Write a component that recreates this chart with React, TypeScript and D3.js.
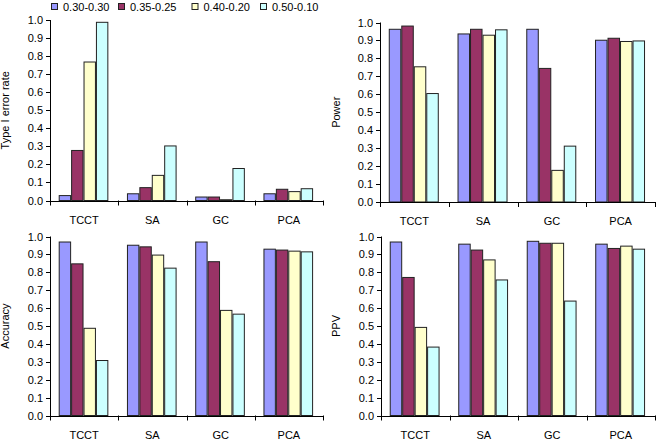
import React from 'react';
import * as d3 from 'd3';

// categories and series
const categories = ['TCCT', 'SA', 'GC', 'PCA'];
const seriesNames = ['0.30-0.30', '0.35-0.25', '0.40-0.20', '0.50-0.10'];
const seriesColors = ['#9999FF', '#993366', '#FFFFCC', '#CCFFFF'];
const yTicks = [0, 0.1, 0.2, 0.3, 0.4, 0.5, 0.6, 0.7, 0.8, 0.9, 1.0];

// values, one row per category, one entry per series
const typeIError = [
  [0.03, 0.28, 0.77, 0.99],
  [0.04, 0.074, 0.142, 0.305],
  [0.022, 0.022, 0.007, 0.18],
  [0.04, 0.065, 0.052, 0.068],
];
const power = [
  [0.965, 0.983, 0.756, 0.607],
  [0.939, 0.965, 0.932, 0.962],
  [0.965, 0.747, 0.179, 0.314],
  [0.904, 0.915, 0.897, 0.9],
];
const accuracy = [
  [0.972, 0.85, 0.49, 0.31],
  [0.954, 0.945, 0.899, 0.826],
  [0.972, 0.862, 0.59, 0.569],
  [0.932, 0.927, 0.921, 0.917],
];
const ppv = [
  [0.972, 0.774, 0.495, 0.385],
  [0.96, 0.927, 0.872, 0.76],
  [0.976, 0.965, 0.965, 0.642],
  [0.96, 0.936, 0.949, 0.932],
];

const font = 'Liberation Sans, Arial, sans-serif';

type PanelProps = {
  values: number[][];
  title: string;
  left: number;
  right: number;
  top: number;
  bottom: number;
  titleX: number;
};

const Panel = ({ values, title, left, right, top, bottom, titleX }: PanelProps) => {
  const x0 = d3.scaleBand().domain(categories).range([left, right]).padding(0);
  const cw = x0.bandwidth();
  const bw = cw / 5.5;
  const x1 = d3
    .scaleBand()
    .domain(seriesNames)
    .range([cw / 2 - 2 * bw - 0.6, cw / 2 + 2 * bw - 0.6])
    .padding(0);
  const y = d3.scaleLinear().domain([0, 1]).range([bottom, top]);
  const bounds = categories.map((c) => x0(c) as number).concat([right]);

  return (
    <g>
      {categories.map((c, ci) => (
        <g key={c} transform={`translate(${x0(c)},0)`}>
          {seriesNames.map((s, si) => (
            <rect
              key={s}
              x={(x1(s) as number) + 0.5}
              y={y(values[ci][si]) + 0.5}
              width={x1.bandwidth() - 1}
              height={Math.max(0, bottom - y(values[ci][si]) - 0.5)}
              fill={seriesColors[si]}
              stroke="#222"
              strokeWidth={1}
            />
          ))}
          <text
            x={cw / 2}
            y={bottom + 23}
            textAnchor="middle"
            fontFamily={font}
            fontSize={11}
            fill="#000"
          >
            {c}
          </text>
        </g>
      ))}
      {/* y axis */}
      <line x1={left + 0.5} x2={left + 0.5} y1={top} y2={bottom + 0.5} stroke="#000" />
      {yTicks.map((t) => (
        <g key={t}>
          <line x1={left - 4} x2={left + 0.5} y1={Math.round(y(t)) + 0.5} y2={Math.round(y(t)) + 0.5} stroke="#000" />
          <text
            x={left - 7}
            y={y(t) + 4}
            textAnchor="end"
            fontFamily={font}
            fontSize={11}
            fill="#000"
          >
            {t.toFixed(1)}
          </text>
        </g>
      ))}
      {/* x axis */}
      <line x1={left} x2={right} y1={Math.round(bottom) + 0.5} y2={Math.round(bottom) + 0.5} stroke="#000" />
      {bounds.map((b, i) => (
        <line key={i} x1={Math.round(b) + 0.5} x2={Math.round(b) + 0.5} y1={bottom} y2={bottom + 5} stroke="#000" />
      ))}
      <text
        transform={`translate(${titleX},${(top + bottom) / 2}) rotate(-90)`}
        textAnchor="middle"
        fontFamily={font}
        fontSize={11}
        fill="#000"
      >
        {title}
      </text>
    </g>
  );
};

const App = () => {
  const legendX = [51, 118, 191.5, 260];
  return (
    <svg width={661} height={442} style={{ position: 'absolute', left: 0, top: 0, background: '#fff' }}>
      <rect width={661} height={442} fill="#fff" />
      <g>
        {seriesNames.map((s, i) => (
          <g key={s} transform={`translate(${legendX[i]},3)`}>
            <rect x={0.5} y={0.5} width={6} height={6} fill={seriesColors[i]} stroke="#222" />
            <text x={12} y={8} fontFamily={font} fontSize={11} fill="#000">
              {s}
            </text>
          </g>
        ))}
      </g>
      <Panel values={typeIError} title="Type I error rate" left={50} right={323} top={20} bottom={200.5} titleX={9} />
      <Panel values={power} title="Power" left={380} right={655} top={22.5} bottom={202} titleX={340} />
      <Panel values={accuracy} title="Accuracy" left={50} right={323} top={236.5} bottom={415.5} titleX={9} />
      <Panel values={ppv} title="PPV" left={381} right={655} top={236.5} bottom={415.5} titleX={340} />
    </svg>
  );
};

export default App;
